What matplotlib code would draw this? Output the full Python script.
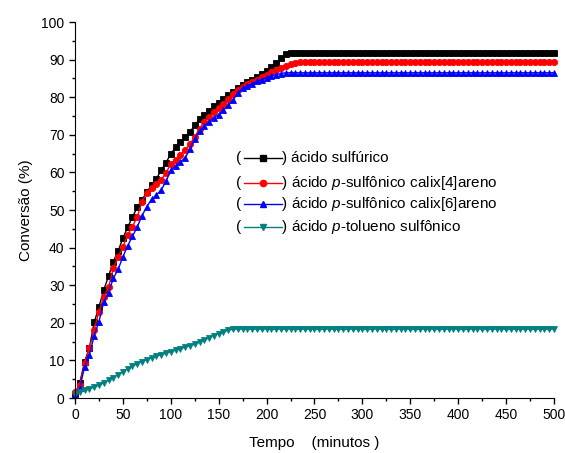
import matplotlib
matplotlib.use("Agg")
import matplotlib.pyplot as plt
from matplotlib.ticker import MultipleLocator

plt.rcParams["font.family"] = ["Liberation Sans", "DejaVu Sans"]
plt.rcParams["mathtext.fontset"] = "custom"
plt.rcParams["mathtext.rm"] = "Liberation Sans"
plt.rcParams["mathtext.it"] = "Liberation Sans:italic"

# Sampling times (minutes), one reading every 5 min
minutes = list(range(0, 505, 5))

sulfurico = [
    1.0, 4.0, 9.6, 13.3, 20.1, 24.2, 28.7, 32.4, 36.3, 39.1,
    42.5, 45.4, 48.1, 50.7, 52.7, 54.8, 56.6, 58.3, 60.6, 62.6,
    64.9, 66.7, 68.1, 69.4, 70.7, 72.6, 74.1, 75.3, 76.4, 77.6,
    78.5, 79.5, 80.6, 81.5, 82.4, 83.2, 84.0, 84.7, 85.4, 86.1,
    86.9, 88.0, 89.1, 90.5, 91.4, 91.7, 91.8, 91.8, 91.8, 91.8,
    91.8, 91.8, 91.8, 91.8, 91.8, 91.8, 91.8, 91.8, 91.8, 91.8,
    91.8, 91.8, 91.8, 91.8, 91.8, 91.8, 91.8, 91.8, 91.8, 91.8,
    91.8, 91.8, 91.8, 91.8, 91.8, 91.8, 91.8, 91.8, 91.8, 91.8,
    91.8, 91.8, 91.8, 91.8, 91.8, 91.8, 91.8, 91.8, 91.8, 91.8,
    91.8, 91.8, 91.8, 91.8, 91.8, 91.8, 91.8, 91.8, 91.8, 91.8,
    91.8,
]

calix4 = [
    1.5, 3.5, 9.3, 13.2, 18.1, 23.0, 26.8, 29.4, 34.5, 37.4,
    40.2, 43.4, 45.6, 48.2, 52.2, 54.6, 55.8, 56.8, 58.0, 59.8,
    62.3, 63.3, 64.6, 66.0, 67.5, 69.5, 71.5, 73.5, 74.8, 76.0,
    77.0, 78.1, 79.5, 80.8, 81.9, 82.8, 83.4, 84.0, 84.7, 85.3,
    86.0, 86.6, 87.2, 87.8, 88.4, 88.8, 89.1, 89.3, 89.3, 89.3,
    89.3, 89.3, 89.3, 89.3, 89.3, 89.3, 89.3, 89.3, 89.3, 89.3,
    89.3, 89.3, 89.3, 89.3, 89.3, 89.3, 89.3, 89.3, 89.3, 89.3,
    89.3, 89.3, 89.3, 89.3, 89.3, 89.3, 89.3, 89.3, 89.3, 89.3,
    89.3, 89.3, 89.3, 89.3, 89.3, 89.3, 89.3, 89.3, 89.3, 89.3,
    89.3, 89.3, 89.3, 89.3, 89.3, 89.3, 89.3, 89.3, 89.3, 89.3,
    89.3,
]

calix6 = [
    1.0, 2.6, 8.3, 11.4, 16.5, 20.3, 25.5, 28.0, 31.8, 34.2,
    37.5, 40.5, 43.0, 45.5, 48.5, 50.9, 52.8, 54.0, 55.3, 57.6,
    60.6, 61.7, 62.8, 63.9, 66.1, 69.0, 71.0, 72.3, 73.5, 74.5,
    75.4, 76.6, 77.8, 79.3, 81.2, 82.4, 83.0, 83.6, 84.2, 84.7,
    85.2, 85.7, 86.0, 86.3, 86.5, 86.5, 86.5, 86.5, 86.5, 86.5,
    86.5, 86.5, 86.5, 86.5, 86.5, 86.5, 86.5, 86.5, 86.5, 86.5,
    86.5, 86.5, 86.5, 86.5, 86.5, 86.5, 86.5, 86.5, 86.5, 86.5,
    86.5, 86.5, 86.5, 86.5, 86.5, 86.5, 86.5, 86.5, 86.5, 86.5,
    86.5, 86.5, 86.5, 86.5, 86.5, 86.5, 86.5, 86.5, 86.5, 86.5,
    86.5, 86.5, 86.5, 86.5, 86.5, 86.5, 86.5, 86.5, 86.5, 86.5,
    86.5,
]

tolueno = [
    1.0, 1.6, 2.0, 2.4, 2.9, 3.4, 4.0, 4.8, 5.4, 6.2,
    7.0, 7.8, 8.5, 9.1, 9.7, 10.2, 10.7, 11.1, 11.5, 11.9,
    12.3, 12.7, 13.1, 13.5, 13.9, 14.3, 14.8, 15.4, 16.0, 16.6,
    17.1, 17.6, 18.0, 18.3, 18.3, 18.3, 18.3, 18.3, 18.3, 18.3,
    18.3, 18.3, 18.3, 18.3, 18.3, 18.3, 18.3, 18.3, 18.3, 18.3,
    18.3, 18.3, 18.3, 18.3, 18.3, 18.3, 18.3, 18.3, 18.3, 18.3,
    18.3, 18.3, 18.3, 18.3, 18.3, 18.3, 18.3, 18.3, 18.3, 18.3,
    18.3, 18.3, 18.3, 18.3, 18.3, 18.3, 18.3, 18.3, 18.3, 18.3,
    18.3, 18.3, 18.3, 18.3, 18.3, 18.3, 18.3, 18.3, 18.3, 18.3,
    18.3, 18.3, 18.3, 18.3, 18.3, 18.3, 18.3, 18.3, 18.3, 18.3,
    18.3,
]

labels = [
    "ácido sulfúrico",
    "ácido $\\mathit{p}$-sulfônico calix[4]areno",
    "ácido $\\mathit{p}$-sulfônico calix[6]areno",
    "ácido $\\mathit{p}$-tolueno sulfônico",
]

series = [sulfurico, calix4, calix6, tolueno]
colors = ["#000000", "#ff0000", "#0000ff", "#008080"]
markers = ["s", "o", "^", "v"]

fig = plt.figure(figsize=(5.65, 4.53), dpi=100)
ax = fig.add_axes([0.1327, 0.1214, 0.8478, 0.830])

for vals, col, mk in zip(series, colors, markers):
    ax.plot(minutes, vals, color=col, marker=mk, markersize=4.5,
            linewidth=1.0, markeredgewidth=0.6, clip_on=False)

ax.set_xlim(0, 500)
ax.set_ylim(0, 100)
ax.xaxis.set_major_locator(MultipleLocator(50))
ax.xaxis.set_minor_locator(MultipleLocator(25))
ax.yaxis.set_major_locator(MultipleLocator(10))
ax.yaxis.set_minor_locator(MultipleLocator(5))
ax.spines["top"].set_visible(False)
ax.spines["right"].set_visible(False)
ax.tick_params(which="major", direction="out", length=4.5, width=1.0,
               labelsize=10, pad=3)
ax.tick_params(which="minor", direction="out", length=2.5, width=1.0)

ax.set_ylabel("Conversão (%)", fontsize=11, labelpad=6)
ax.set_xlabel("Tempo    (minutos )", fontsize=11, labelpad=10)

# Legend entries drawn as "(—■—) label"
rows_y = [0.6375, 0.5726, 0.516, 0.454]
for y, col, mk, lab in zip(rows_y, colors, markers, labels):
    ax.text(0.342, y, "(", transform=ax.transAxes, fontsize=11,
            ha="center", va="center")
    ax.plot([0.353, 0.432], [y, y], color=col, linewidth=1.0,
            transform=ax.transAxes, clip_on=False)
    ax.plot([0.392], [y], color=col, marker=mk, markersize=4.5,
            linestyle="none", transform=ax.transAxes, clip_on=False)
    ax.text(0.438, y, ")", transform=ax.transAxes, fontsize=11,
            ha="center", va="center")
    ax.text(0.452, y, lab, transform=ax.transAxes, fontsize=11,
            ha="left", va="center")

fig.savefig("out.png", dpi=100)
